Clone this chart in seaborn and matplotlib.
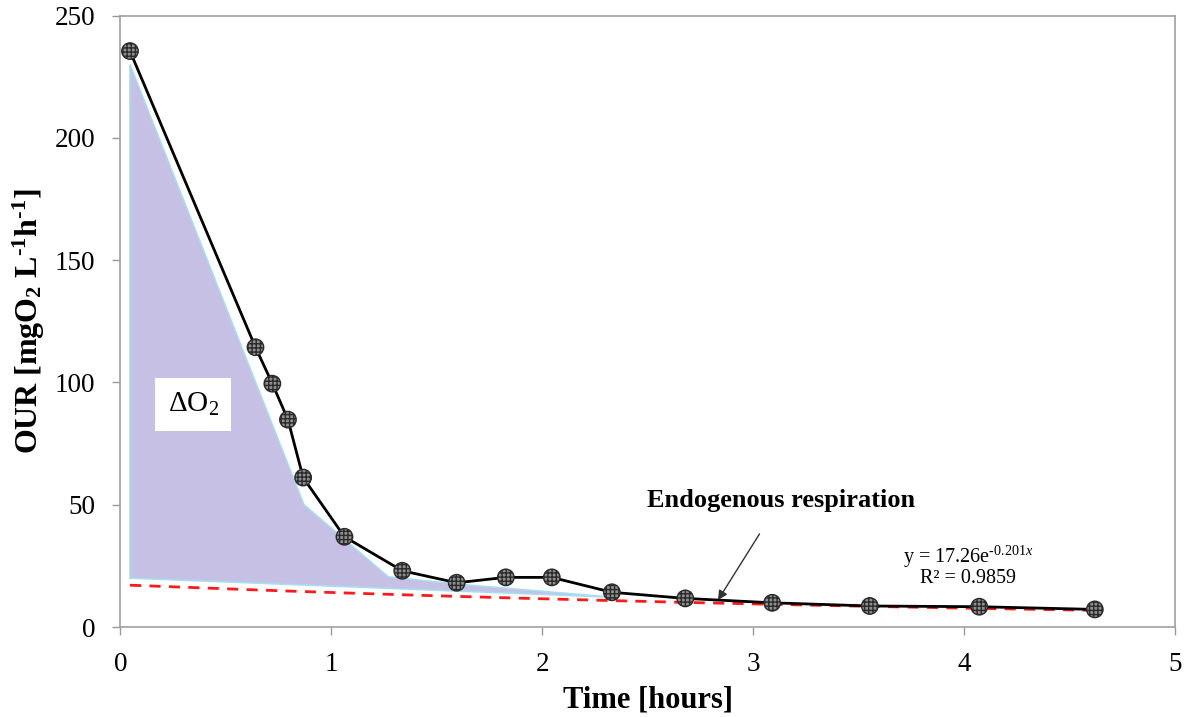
import numpy as np
import pandas as pd
import seaborn as sns
import matplotlib.pyplot as plt

# measured OUR curve
time_h = [0.045, 0.64, 0.72, 0.794, 0.866, 1.062, 1.336, 1.594, 1.827, 2.045,
          2.33, 2.678, 3.09, 3.553, 4.072, 4.62]
our = [235.5, 114.4, 99.5, 84.8, 61.1, 36.9, 23.0, 18.1, 20.3, 20.3,
       14.2, 11.7, 9.9, 8.6, 8.3, 7.2]

# shaded delta O2 area (upper edge, then back along endogenous level)
area_x = [0.045, 0.87, 1.27, 1.6, 2.33, 0.045]
area_y = [230.0, 50.0, 20.5, 17.5, 12.2, 20.0]

# exponential fit of endogenous respiration, from the chart
fit_a = 17.26
fit_b = -0.201

df = pd.DataFrame({"time": time_h, "our": our})
df["fit"] = fit_a * np.exp(fit_b * df["time"])

sns.set_style("white")
plt.rcParams["font.family"] = ["Liberation Serif", "DejaVu Serif"]
plt.rcParams["mathtext.fontset"] = "custom"
plt.rcParams["mathtext.rm"] = "Liberation Serif"
plt.rcParams["mathtext.bf"] = "Liberation Serif:bold"
plt.rcParams["mathtext.it"] = "Liberation Serif:italic"
plt.rcParams["text.color"] = "black"
plt.rcParams["axes.labelcolor"] = "black"

fig = plt.figure(figsize=(11.86, 7.17), dpi=100)
ax = fig.add_axes([0.1016, 0.1255, 0.8891, 0.8527])

ax.fill(area_x, area_y, facecolor="#c5c0e4", edgecolor="#a8dcef", linewidth=1.2, zorder=1)

sns.lineplot(data=df, x="time", y="fit", ax=ax, color="#ff1a1a", linewidth=2,
             linestyle=(0, (4, 3)), zorder=2)
sns.lineplot(data=df, x="time", y="our", ax=ax, color="black", linewidth=2, zorder=3)
sns.scatterplot(data=df, x="time", y="our", ax=ax, s=140, color="#8e8e8e",
                edgecolor="#2a2a2a", linewidth=1, hatch="++++", zorder=4)

ax.set_xlim(0, 5)
ax.set_ylim(0, 250)
ax.set_xticks(range(0, 6))
ax.set_yticks(range(0, 251, 50))
ax.tick_params(axis="both", labelsize=19.5, direction="out", length=6, width=1,
               color="#999999", labelcolor="black", pad=12, bottom=True, left=True)
for s in ax.spines.values():
    s.set_color("#a0a0a0")
    s.set_linewidth(1.2)

ax.set_xlabel("Time [hours]", fontsize=22, fontweight="bold", labelpad=6)
ax.set_ylabel(r"OUR [mgO$_\mathbf{2}$ L$^\mathbf{\text{-}1}$h$^\mathbf{\text{-}1}$]",
              fontsize=23, fontweight="bold", labelpad=6)

ax.text(0.344, 91, r"$\Delta$O$_2$", fontsize=21, ha="center", va="center",
        bbox=dict(facecolor="white", edgecolor="none", pad=9), zorder=5)

ax.annotate("Endogenous respiration", xy=(2.833, 11.0), xytext=(3.13, 51.8),
            fontsize=19, fontweight="bold", ha="center", va="center",
            arrowprops=dict(arrowstyle="-|>", color="#333333", lw=1,
                            shrinkA=16, shrinkB=0, mutation_scale=14))

ax.text(4.02, 28.7, r"y = 17.26e$^{\text{-}0.201x}$", fontsize=14.5, ha="center",
        va="center")
ax.text(4.02, 19.8, "R² = 0.9859", fontsize=14.5, ha="center", va="center")

fig.savefig("out.png", dpi=100)
